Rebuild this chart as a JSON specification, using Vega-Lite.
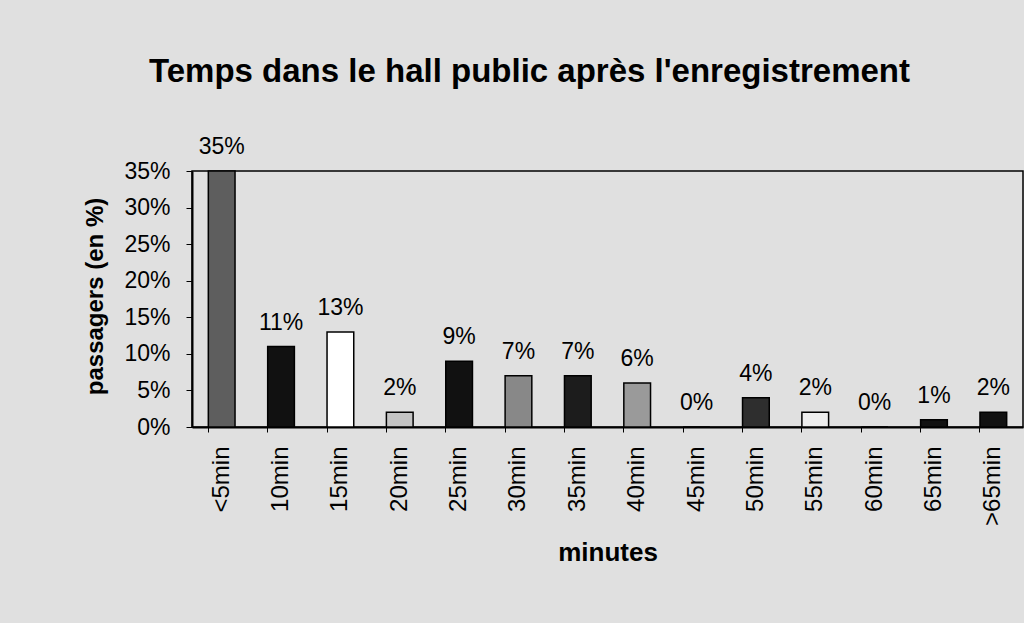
{
  "$schema": "https://vega.github.io/schema/vega-lite/v6.json",
  "autosize": "none",
  "padding": {"left": 192, "top": 171, "right": 1, "bottom": 196},
  "width": 831,
  "height": 256,
  "background": "#e0e0e0",
  "title": {
    "text": "Temps dans le hall public après l'enregistrement",
    "font": "Liberation Sans",
    "fontSize": 33,
    "fontWeight": "bold",
    "color": "#000000",
    "anchor": "middle",
    "frame": "group",
    "offset": 47,
    "dx": -78
  },
  "data": {
    "values": [
      {"minutes": "<5min", "part": 0.35},
      {"minutes": "10min", "part": 0.11},
      {"minutes": "15min", "part": 0.13},
      {"minutes": "20min", "part": 0.02},
      {"minutes": "25min", "part": 0.09},
      {"minutes": "30min", "part": 0.07},
      {"minutes": "35min", "part": 0.07},
      {"minutes": "40min", "part": 0.06},
      {"minutes": "45min", "part": 0.0},
      {"minutes": "50min", "part": 0.04},
      {"minutes": "55min", "part": 0.02},
      {"minutes": "60min", "part": 0.0},
      {"minutes": "65min", "part": 0.01},
      {"minutes": ">65min", "part": 0.02}
    ]
  },
  "encoding": {
    "x": {
      "field": "minutes",
      "type": "nominal",
      "sort": null,
      "scale": {"paddingInner": 0.55, "paddingOuter": 0.275},
      "axis": {
        "title": "minutes",
        "titleFont": "Liberation Sans",
        "titleFontSize": 26,
        "titleFontWeight": "bold",
        "titleColor": "#000000",
        "titleY": 125,
        "titleBaseline": "middle",
        "labelFont": "Liberation Sans",
        "labelFontSize": 24,
        "labelColor": "#000000",
        "labelAngle": -90,
        "labelPadding": 14,
        "bandPosition": 0,
        "tickSize": 5,
        "tickColor": "#000000",
        "domainColor": "#000000",
        "domainWidth": 2
      }
    },
    "y": {
      "field": "part",
      "type": "quantitative",
      "scale": {"domain": [0, 0.35], "nice": false},
      "axis": {
        "title": "passagers (en %)",
        "titleFont": "Liberation Sans",
        "titleFontSize": 24,
        "titleFontWeight": "bold",
        "titleColor": "#000000",
        "titleX": -97,
        "titleY": 125,
        "titleAlign": "center",
        "titleBaseline": "middle",
        "values": [0, 0.05, 0.1, 0.15, 0.2, 0.25, 0.3, 0.35],
        "format": ".0%",
        "labelFont": "Liberation Sans",
        "labelFontSize": 23,
        "labelColor": "#000000",
        "labelPadding": 16,
        "tickSize": 6,
        "tickColor": "#000000",
        "domainColor": "#000000",
        "domainWidth": 2,
        "grid": false
      }
    }
  },
  "layer": [
    {
      "mark": {"type": "bar", "stroke": "#000000", "strokeWidth": 1.5},
      "encoding": {
        "color": {
          "field": "minutes",
          "type": "nominal",
          "scale": {
            "domain": ["<5min", "10min", "15min", "20min", "25min", "30min", "35min", "40min", "45min", "50min", "55min", "60min", "65min", ">65min"],
            "range": ["#5e5e5e", "#111111", "#ffffff", "#c4c4c4", "#111111", "#888888", "#1c1c1c", "#9a9a9a", "#777777", "#2e2e2e", "#eeeeee", "#777777", "#111111", "#111111"]
          },
          "legend": null
        }
      }
    },
    {
      "mark": {
        "type": "text",
        "font": "Liberation Sans",
        "fontSize": 23,
        "color": "#000000",
        "baseline": "middle",
        "dy": -24
      },
      "encoding": {
        "text": {"field": "part", "type": "quantitative", "format": ".0%"}
      }
    }
  ],
  "config": {
    "view": {"stroke": "#000000", "strokeWidth": 1.5, "fill": "#e0e0e0"}
  }
}
